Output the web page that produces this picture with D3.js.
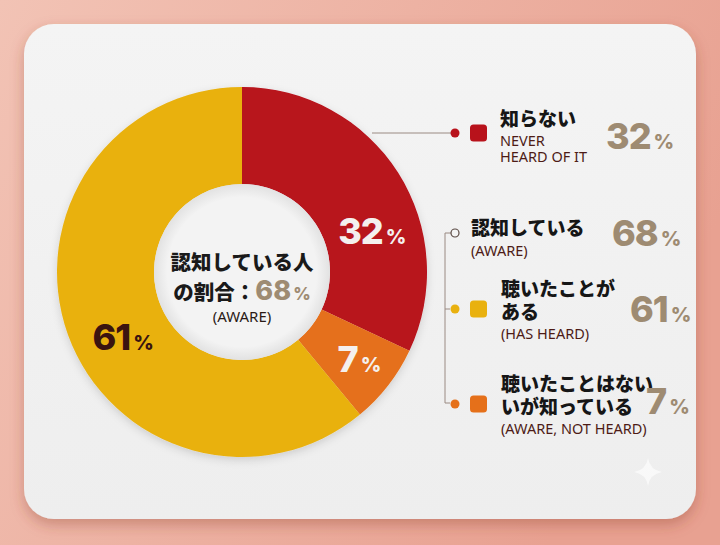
<!DOCTYPE html>
<html>
<head>
<meta charset="utf-8">
<script src="https://cdn.jsdelivr.net/npm/d3@7"></script>
<style>
  html, body { margin: 0; padding: 0; }
  body { width: 720px; height: 545px; overflow: hidden; }
</style>
</head>
<body>
<div id="chart"></div>
<script>
// データ
var categories = ['知らない', '聴いたことはないが知っている', '聴いたことがある'];
var categoryEn = ['NEVER HEARD OF IT', 'AWARE, NOT HEARD', 'HAS HEARD'];
var values = [32, 7, 61];
var awareLabel = '認知している';
var awareValue = 68;
var colors = ['#b8121b', '#e5701a', '#e9b10f'];

var width = 720, height = 545;
var jp = '"Noto Sans CJK JP", "Noto Sans", sans-serif';
var num = 'Inter, Lato, "Noto Sans", sans-serif';
var en = '"Noto Sans", Lato, sans-serif';
var tan = '#9e8b72';
var maroon = '#4d1b16';

var svg = d3.select('#chart').append('svg')
  .attr('width', width)
  .attr('height', height);

var defs = svg.append('defs');
var bg = defs.append('linearGradient').attr('id', 'bg')
  .attr('x1', 0).attr('y1', 0).attr('x2', 1).attr('y2', 0.4);
bg.append('stop').attr('offset', 0).attr('stop-color', '#f2c3b5');
bg.append('stop').attr('offset', 1).attr('stop-color', '#e8a191');

var card = defs.append('linearGradient').attr('id', 'card')
  .attr('x1', 0).attr('y1', 0).attr('x2', 0).attr('y2', 1);
card.append('stop').attr('offset', 0).attr('stop-color', '#f4f4f4');
card.append('stop').attr('offset', 1).attr('stop-color', '#eeeeee');

var sh = defs.append('filter').attr('id', 'shadow')
  .attr('x', '-10%').attr('y', '-10%').attr('width', '120%').attr('height', '125%');
sh.append('feDropShadow').attr('dx', 0).attr('dy', 6).attr('stdDeviation', 7)
  .attr('flood-color', '#8a3a2a').attr('flood-opacity', 0.35);

var sh2 = defs.append('filter').attr('id', 'dshadow')
  .attr('x', '-10%').attr('y', '-10%').attr('width', '120%').attr('height', '125%');
sh2.append('feDropShadow').attr('dx', 0).attr('dy', 3).attr('stdDeviation', 4)
  .attr('flood-color', '#000').attr('flood-opacity', 0.14);

// 背景とカード
svg.append('rect').attr('width', width).attr('height', height).attr('fill', 'url(#bg)');
svg.append('rect')
  .attr('x', 24).attr('y', 24).attr('width', 672).attr('height', 495)
  .attr('rx', 30)
  .attr('fill', 'url(#card)')
  .attr('filter', 'url(#shadow)');

// ドーナツ
var cx = 242, cy = 272, outerR = 185, innerR = 88;
var pie = d3.pie().sort(null).value(function (d) { return d; });
var arc = d3.arc().innerRadius(innerR).outerRadius(outerR);
var arcs = pie(values);

var g = svg.append('g').attr('transform', 'translate(' + cx + ',' + cy + ')');
g.append('g').attr('filter', 'url(#dshadow)')
  .selectAll('path')
  .data(arcs)
  .enter()
  .append('path')
  .attr('d', arc)
  .attr('fill', function (d, i) { return colors[i]; });

// 内側の影
var hole = defs.append('radialGradient').attr('id', 'hole');
hole.append('stop').attr('offset', 0.85).attr('stop-color', '#f3f3f3');
hole.append('stop').attr('offset', 1).attr('stop-color', '#e2e2e2');
g.append('circle').attr('r', innerR).attr('fill', 'url(#hole)');

// ラベル位置（スライス内の角度比と半径）
var labelAt = [[0.63, 136], [0.46, 146], [0.46, 136]];
var labelColor = ['#f4f0ee', '#f4f0ee', '#3a1410'];
g.selectAll('text.pct')
  .data(arcs)
  .enter()
  .append('text')
  .attr('class', 'pct')
  .attr('transform', function (d, i) {
    var a = d.startAngle + labelAt[i][0] * (d.endAngle - d.startAngle);
    var r = labelAt[i][1];
    return 'translate(' + (r * Math.sin(a)) + ',' + (-r * Math.cos(a) + 13) + ')';
  })
  .attr('text-anchor', 'middle')
  .attr('font-family', num)
  .attr('font-weight', 800)
  .attr('font-size', 36)
  .attr('letter-spacing', -1)
  .attr('fill', function (d, i) { return labelColor[i]; })
  .each(function (d) {
    var t = d3.select(this);
    t.append('tspan').text(d.data);
    t.append('tspan').attr('font-size', 20).attr('dx', 3).text('%');
  });

// 中央テキスト
g.append('text').attr('y', -2).attr('text-anchor', 'middle')
  .attr('font-family', jp).attr('font-weight', 900).attr('font-size', 20.5)
  .attr('fill', '#1a1a1a').text(awareLabel + '人');
var c2 = g.append('text').attr('y', 28).attr('text-anchor', 'middle')
  .attr('font-family', jp).attr('font-weight', 900).attr('font-size', 20.5)
  .attr('fill', '#1a1a1a');
c2.append('tspan').text('の割合：');
c2.append('tspan').attr('font-family', num).attr('font-weight', 800).attr('font-size', 27)
  .attr('fill', tan).text(awareValue);
c2.append('tspan').attr('font-family', num).attr('font-weight', 800).attr('font-size', 17)
  .attr('dx', 2).attr('fill', tan).text('%');
g.append('text').attr('y', 50).attr('text-anchor', 'middle')
  .attr('font-family', en).attr('font-size', 15)
  .attr('fill', '#2a1a16').text('(AWARE)');

// 凡例
var lineCol = '#9a8a82';
function pctText(x, y, v) {
  var t = svg.append('text').attr('x', x).attr('y', y)
    .attr('font-family', num).attr('font-weight', 800).attr('font-size', 36)
    .attr('letter-spacing', -1)
    .attr('fill', tan);
  t.append('tspan').text(v);
  t.append('tspan').attr('font-size', 20).attr('dx', 3).text('%');
}
function jpLines(x, ys, lines) {
  lines.forEach(function (s, i) {
    svg.append('text').attr('x', x).attr('y', ys[i])
      .attr('font-family', jp).attr('font-weight', 900).attr('font-size', 19)
      .attr('fill', '#161616').text(s);
  });
}
function enLines(x, ys, lines) {
  lines.forEach(function (s, i) {
    svg.append('text').attr('x', x).attr('y', ys[i])
      .attr('font-family', en).attr('font-size', 14.5)
      .attr('fill', maroon).text(s);
  });
}
function marker(y, col) {
  svg.append('circle').attr('cx', 455).attr('cy', y).attr('r', 4.5).attr('fill', col);
  svg.append('rect').attr('x', 470).attr('y', y - 8.5).attr('width', 17).attr('height', 17)
    .attr('rx', 3.5).attr('fill', col);
}

// 知らない
svg.append('line').attr('x1', 372).attr('y1', 133).attr('x2', 452).attr('y2', 133)
  .attr('stroke', lineCol).attr('stroke-width', 1);
marker(133, colors[0]);
jpLines(500, [126], [categories[0]]);
enLines(500, [146, 162], ['NEVER', 'HEARD OF IT']);
pctText(606, 149, values[0]);

// 認知しているグループ
svg.append('path')
  .attr('d', 'M451,233 H445 V403 H450 M445,309 H450')
  .attr('fill', 'none').attr('stroke', lineCol).attr('stroke-width', 1);
svg.append('circle').attr('cx', 455).attr('cy', 233).attr('r', 4)
  .attr('fill', '#f4f4f4').attr('stroke', '#5a4a44').attr('stroke-width', 1.2);
jpLines(471, [235], [awareLabel]);
enLines(471, [256], ['(AWARE)']);
pctText(612, 246, awareValue);

marker(309, colors[2]);
jpLines(501, [296, 319], ['聴いたことが', 'ある']);
enLines(501, [339], ['(' + categoryEn[2] + ')']);
pctText(630, 322, values[2]);

marker(404, colors[1]);
jpLines(501, [391, 414], ['聴いたことはない', 'いが知っている']);
enLines(501, [434], ['(' + categoryEn[1] + ')']);
pctText(646, 414, values[1]);

// きらめき
svg.append('path')
  .attr('d', 'M648,458 Q650,470 662,472 Q650,474 648,486 Q646,474 634,472 Q646,470 648,458 Z')
  .attr('fill', '#ffffff').attr('opacity', 0.6);
</script>
</body>
</html>
